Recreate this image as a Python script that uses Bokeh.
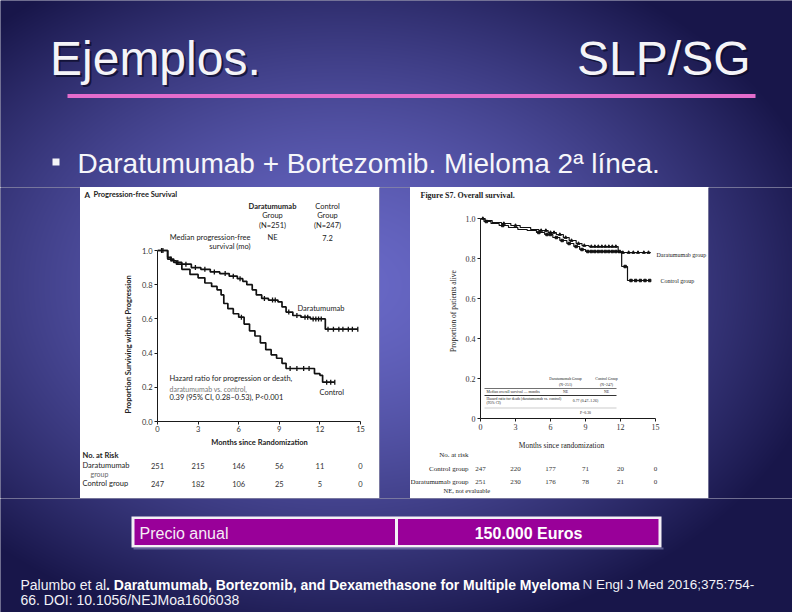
import numpy as np
from bokeh.plotting import figure
from bokeh.layouts import column, row
from bokeh.models import (Label, LabelSet, ColumnDataSource, FixedTicker,
                          NumeralTickFormatter, BoxAnnotation)
from bokeh.core.properties import value
from bokeh.embed import file_html
from bokeh.resources import INLINE

# ---------------- data ----------------
month_ticks = [0, 3, 6, 9, 12, 15]
prop_ticks = [0.0, 0.2, 0.4, 0.6, 0.8, 1.0]

# Progression-free survival (panel A)
pfs_dara_t = [0, 0.75, 1.2, 1.8, 2.5, 3.2, 3.9, 4.6, 5.3, 5.9, 6.3, 6.6, 7.0, 7.3, 7.7, 8.2, 8.9, 9.2, 9.5, 10.0, 10.6, 11.3, 12.4, 14.8]
pfs_dara_s = [1.0, 0.95, 0.93, 0.92, 0.90, 0.89, 0.875, 0.865, 0.85, 0.835, 0.82, 0.80, 0.77, 0.74, 0.72, 0.71, 0.70, 0.67, 0.64, 0.62, 0.61, 0.60, 0.54, 0.54]
pfs_ctrl_t = [0, 0.75, 1.0, 1.4, 1.8, 2.4, 3.0, 3.5, 4.0, 4.4, 4.7, 4.9, 5.2, 5.6, 6.0, 6.4, 6.8, 7.2, 7.6, 8.0, 8.4, 8.8, 9.2, 9.5, 11.6, 12.0, 12.2, 13.1]
pfs_ctrl_s = [1.0, 0.96, 0.94, 0.92, 0.89, 0.86, 0.84, 0.81, 0.79, 0.77, 0.74, 0.69, 0.66, 0.63, 0.61, 0.57, 0.53, 0.50, 0.46, 0.42, 0.39, 0.37, 0.34, 0.31, 0.28, 0.27, 0.23, 0.23]
pfs_dara_cens_t = [0.3, 1.0, 1.5, 2.1, 2.8, 3.5, 4.2, 5.0, 5.6, 6.1, 7.9, 8.5, 8.7, 9.7, 10.3, 10.9, 11.1, 11.5, 11.7, 11.9, 12.1, 12.6, 13.0, 13.4, 13.7, 14.1, 14.4, 14.8]
pfs_dara_cens_s = [1.0, 0.95, 0.93, 0.92, 0.90, 0.89, 0.875, 0.865, 0.85, 0.835, 0.72, 0.71, 0.71, 0.64, 0.62, 0.61, 0.61, 0.60, 0.60, 0.60, 0.60, 0.54, 0.54, 0.54, 0.54, 0.54, 0.54, 0.54]
pfs_ctrl_cens_t = [0.4, 6.2, 9.8, 10.3, 10.8, 11.2, 12.5, 12.8, 13.1]
pfs_ctrl_cens_s = [1.0, 0.61, 0.31, 0.31, 0.31, 0.31, 0.23, 0.23, 0.23]
pfs_risk_dara = [251, 215, 146, 56, 11, 0]
pfs_risk_ctrl = [247, 182, 106, 25, 5, 0]

# Overall survival (Figure S7)
os_dara_t = [0, 0.4, 1.0, 1.8, 2.6, 3.4, 4.3, 5.0, 5.8, 6.5, 7.1, 7.6, 8.2, 8.7, 9.3, 11.8, 14.6]
os_dara_s = [1.0, 0.99, 0.98, 0.975, 0.965, 0.955, 0.945, 0.94, 0.93, 0.92, 0.905, 0.89, 0.875, 0.865, 0.86, 0.83, 0.83]
os_ctrl_t = [0, 0.3, 0.9, 1.6, 2.4, 3.2, 4.0, 4.8, 5.5, 6.2, 6.8, 7.4, 8.0, 8.5, 9.0, 12.1, 12.6, 14.5]
os_ctrl_s = [1.0, 0.985, 0.975, 0.965, 0.955, 0.945, 0.94, 0.93, 0.92, 0.905, 0.89, 0.875, 0.86, 0.845, 0.835, 0.76, 0.69, 0.69]
os_dara_cens_t = [0.2, 2.0, 3.0, 5.2, 5.6, 6.0, 6.3, 6.8, 7.3, 7.8, 8.4, 8.9, 9.5, 9.8, 10.1, 10.4, 10.7, 11.0, 11.3, 11.6, 12.2, 12.7, 13.1, 13.5, 14.0, 14.4]
os_dara_cens_s = [1.0, 0.975, 0.965, 0.94, 0.94, 0.93, 0.93, 0.92, 0.905, 0.89, 0.875, 0.865, 0.86, 0.86, 0.86, 0.86, 0.86, 0.86, 0.86, 0.86, 0.83, 0.83, 0.83, 0.83, 0.83, 0.83]
os_ctrl_cens_t = [0.5, 1.9, 5.0, 5.7, 6.0, 6.5, 7.0, 7.6, 8.2, 8.7, 9.2, 9.5, 9.8, 10.1, 10.4, 10.7, 11.0, 11.3, 11.6, 11.9, 12.4, 12.9, 13.3, 13.7, 14.1, 14.5]
os_ctrl_cens_s = [0.985, 0.965, 0.93, 0.92, 0.92, 0.905, 0.89, 0.875, 0.86, 0.845, 0.835, 0.835, 0.835, 0.835, 0.835, 0.835, 0.835, 0.835, 0.835, 0.835, 0.76, 0.69, 0.69, 0.69, 0.69, 0.69]
os_risk_ctrl = [247, 220, 177, 71, 20, 0]
os_risk_dara = [251, 230, 176, 78, 21, 0]

SANS = "Liberation Sans"
SERIF = "Liberation Serif"
NEJM = "Lato"


# ---------------- helpers ----------------
def grad(x0, y0, w, h):
    xs = np.arange(x0, x0 + w) + 0.5
    ys = np.arange(y0 + h, y0, -1) - 0.5
    X, Y = np.meshgrid(xs, ys)
    r = np.sqrt(((X - 340) / 500.0) ** 2 + ((Y - 285) / 360.0) ** 2)
    t = np.clip(r, 0, 1) ** 1.5
    inner = np.array([104, 104, 198.0])
    outer = np.array([24, 22, 74.0])
    rgb = inner + (outer - inner) * t[..., None]
    img = np.zeros((h, w, 4), dtype=np.uint8)
    img[..., :3] = np.round(rgb).astype(np.uint8)
    img[..., 3] = 255
    return img.view(np.uint32).reshape((h, w))


def blank(w, h, xr, yr, fill="white"):
    return figure(width=w, height=h, x_range=xr, y_range=yr,
                  x_axis_type=None, y_axis_type=None, toolbar_location=None,
                  output_backend="svg", min_border=0, outline_line_color=None,
                  background_fill_color=fill, border_fill_color=fill, frame_align=False)


def canvas(x0, y0, w, h):
    p = blank(w, h, (x0, x0 + w), (-(y0 + h), -y0), fill="#1a1850")
    p.image_rgba(image=[grad(x0, y0, w, h)], x=x0, y=-(y0 + h), dw=w, dh=h)
    return p


def add_text(p, x, y, text, size, color="#222222", style="normal", align="left",
             font=SANS, alpha=1.0):
    p.add_layout(Label(x=x, y=y, text=text, text_font_size=f"{size}px", text_color=color,
                       text_font_style=style, text_align=align, text_baseline="middle",
                       text_font=font, text_alpha=alpha))


def style_axes(p, font, tick_size, label_size):
    for ax in list(p.xaxis) + list(p.yaxis):
        ax.major_tick_in = 0
        ax.major_tick_out = 3
        ax.minor_tick_line_color = None
        ax.axis_line_color = "#1a1a1a"
        ax.major_tick_line_color = "#1a1a1a"
        ax.major_label_text_font = font
        ax.major_label_text_font_size = f"{tick_size}px"
        ax.major_label_text_color = "#333333"
        ax.major_label_standoff = 2
        ax.axis_label_text_font = font
        ax.axis_label_text_font_size = f"{label_size}px"
        ax.axis_label_text_font_style = "normal"
        ax.axis_label_text_color = "#222222"
    p.grid.visible = False


# ---------------- top of slide ----------------
top = canvas(0, 0, 792, 187)
for dx, col, al in ((2, "#0c0c2a", 0.75), (0, "#f4f4f8", 1.0)):
    add_text(top, 49.5 + dx, -(57.5 + dx), "Ejemplos.", 48, color=col, alpha=al)
    add_text(top, 750 + dx, -(57.5 + dx), "SLP/SG", 48, color=col, alpha=al, align="right")
top.add_layout(BoxAnnotation(left=67, right=755, bottom=-97.5, top=-93.5,
                             fill_color="#e46ccc", fill_alpha=1, line_color=None))
top.add_layout(BoxAnnotation(left=52, right=59, bottom=-165, top=-158,
                             fill_color="#f4f4f8", fill_alpha=1, line_color=None))
add_text(top, 77, -163, "Daratumumab + Bortezomib. Mieloma 2ª línea.", 28, color="#f6f6fa")

# ---------------- PFS panel ----------------
PFS_X0, PFS_PXM = 157.0, (360 - 157) / 15.0
PFS_Y0, PFS_PXU = 421.0, 171.0


def pd(sx, sy):
    return (sx - PFS_X0) / PFS_PXM, (PFS_Y0 - sy) / PFS_PXU


pfs_strip = blank(299, 14, (80, 379), (-201, -187))
add_text(pfs_strip, 84, -194, "A", 8, style="bold", font=NEJM)
add_text(pfs_strip, 93, -194, "Progression-free Survival", 7.5, style="bold", font=NEJM)

pfs = figure(width=299, height=235, x_range=(0, 15), y_range=(0, (421 - 201) / PFS_PXU),
             toolbar_location=None, output_backend="svg", frame_align=False,
             min_border_left=77, min_border_right=19, min_border_top=0, min_border_bottom=15,
             background_fill_color="white", border_fill_color="white", outline_line_color=None)
style_axes(pfs, NEJM, 7.5, 7.5)
pfs.xaxis.ticker = FixedTicker(ticks=month_ticks)
pfs.yaxis.ticker = FixedTicker(ticks=prop_ticks)
pfs.yaxis.bounds = (0, 1)
pfs.xaxis.major_label_standoff = 1
pfs.yaxis.formatter = NumeralTickFormatter(format="0.0")
# trailing no-break spaces keep the title centred on the 0-1 part of the axis
pfs.yaxis.axis_label = "Proportion Surviving without Progression" + "\u00a0" * 36
pfs.yaxis.axis_label_standoff = 6
pfs.yaxis.axis_label_text_font_style = "bold"

pfs.step(pfs_ctrl_t, pfs_ctrl_s, mode="after", line_color="#111111", line_width=1.7)
pfs.step(pfs_dara_t, pfs_dara_s, mode="after", line_color="#111111", line_width=1.7)
pfs.scatter(pfs_dara_cens_t, pfs_dara_cens_s, marker="dash", angle=np.pi / 2, size=5,
            line_color="#111111", line_width=1.3)
pfs.scatter(pfs_ctrl_cens_t, pfs_ctrl_cens_s, marker="dash", angle=np.pi / 2, size=5,
            line_color="#111111", line_width=1.3)


def pfs_text(sx, sy, text, size=7.5, style="normal", align="left", color="#222222"):
    x, y = pd(sx, sy)
    add_text(pfs, x, y, text, size, color=color, style=style, align=align, font=NEJM)


pfs_text(272, 206, "Daratumumab", 7.5, "bold", "center")
pfs_text(272, 215, "Group", 7.5, "normal", "center")
pfs_text(272, 225, "(N=251)", 7.5, "normal", "center")
pfs_text(327, 206, "Control", 7.5, "normal", "center")
pfs_text(327, 215, "Group", 7.5, "normal", "center")
pfs_text(327, 225, "(N=247)", 7.5, "normal", "center")
pfs_text(250, 237, "Median progression-free", 7.5, "normal", "right")
pfs_text(250, 246, "survival (mo)", 7.5, "normal", "right")
pfs_text(272, 237, "NE", 7.5, "normal", "center")
pfs_text(327, 237, "7.2", 7.5, "normal", "center")
pfs_text(297, 308, "Daratumumab", 7.5)
pfs_text(319, 392, "Control", 7.5)
pfs_text(169, 378, "Hazard ratio for progression or death,", 7.5)
pfs_text(169, 388, "daratumumab vs. control,", 7, color="#777777")
pfs_text(169, 397, "0.39 (95% CI, 0.28\u20130.53), P<0.001", 7.5)

pfs_risk = blank(299, 62, ((80 - PFS_X0) / PFS_PXM, (379 - PFS_X0) / PFS_PXM), (-498, -436))


def pm(sx):
    return (sx - PFS_X0) / PFS_PXM


add_text(pfs_risk, pm(259), -442, "Months since Randomization", 7.5, style="bold",
         align="center", font=NEJM)
add_text(pfs_risk, pm(82), -455, "No. at Risk", 7.5, style="bold", font=NEJM)
add_text(pfs_risk, pm(82), -465, "Daratumumab", 7.5, font=NEJM)
add_text(pfs_risk, pm(90), -473, "group", 7, color="#666666", font=NEJM)
add_text(pfs_risk, pm(82), -483, "Control group", 7.5, font=NEJM)
for risk, sy in ((pfs_risk_dara, 465), (pfs_risk_ctrl, 483)):
    src = ColumnDataSource(dict(m=month_ticks, n=[str(v) for v in risk], y=[-sy] * len(risk)))
    pfs_risk.add_layout(LabelSet(x="m", y="y", text="n", source=src, text_font=value(NEJM),
                                 text_font_size="7.5px", text_align="center",
                                 text_baseline="middle", text_color="#333333"))

# ---------------- OS panel ----------------
OS_X0, OS_PXM = 480.0, 175 / 15.0
OS_Y0, OS_PXU = 418.0, 200.0


def od(sx, sy):
    return (sx - OS_X0) / OS_PXM, (OS_Y0 - sy) / OS_PXU


def om(sx):
    return (sx - OS_X0) / OS_PXM


os_strip = blank(298, 16, (410, 708), (-203, -187))
add_text(os_strip, 420, -195, "Figure S7.  Overall survival.", 8, style="bold", font=SERIF)

osf = figure(width=298, height=231, x_range=(0, om(708)), y_range=(0, (418 - 203) / OS_PXU),
             toolbar_location=None, output_backend="svg", frame_align=False,
             min_border_left=70, min_border_right=0, min_border_top=0, min_border_bottom=16,
             background_fill_color="white", border_fill_color="white", outline_line_color=None)
style_axes(osf, SERIF, 8, 7.5)
osf.xaxis.ticker = FixedTicker(ticks=month_ticks)
osf.xaxis.bounds = (0, 15)
osf.yaxis.ticker = FixedTicker(ticks=prop_ticks)
osf.yaxis.bounds = (0, 1)
osf.yaxis.formatter = NumeralTickFormatter(format="0.0")
osf.yaxis.major_label_overrides = {0: "0"}
osf.yaxis.axis_label = "Proportion of patients alive"
osf.yaxis.axis_label_standoff = 5

osf.step(os_ctrl_t, os_ctrl_s, mode="after", line_color="#111111", line_width=1.2)
osf.step(os_dara_t, os_dara_s, mode="after", line_color="#111111", line_width=1.2)
osf.scatter(os_dara_cens_t, os_dara_cens_s, marker="triangle", size=3,
            fill_color="#111111", line_color="#111111")
osf.scatter(os_ctrl_cens_t, os_ctrl_cens_s, marker="square", size=2.5,
            fill_color="#111111", line_color="#111111")


def os_text(sx, sy, text, size=7, style="normal", align="left", color="#222222"):
    x, y = od(sx, sy)
    add_text(osf, x, y, text, size, color=color, style=style, align=align, font=SERIF)


os_text(656, 254, "Daratumumab group", 6)
os_text(660, 280, "Control group", 6)

# small inset table of the OS figure
os_text(565, 378, "Daratumumab Group", 3.8, align="center")
os_text(565, 384, "(N=251)", 3.8, align="center")
os_text(606, 378, "Control Group", 3.8, align="center")
os_text(606, 384, "(N=247)", 3.8, align="center")
os_text(486, 391.5, "Median overall survival \u2014 months", 3.8)
os_text(565, 391.5, "NE", 3.8, align="center")
os_text(606, 391.5, "NE", 3.8, align="center")
os_text(486, 398.5, "Hazard ratio for death (daratumumab vs. control)", 3.8)
os_text(486, 402.5, "(95% CI)", 3.8)
os_text(585, 400, "0.77 (0.47\u20131.26)", 3.8, align="center")
os_text(585, 412, "P=0.30", 3.8, align="center")
for sy, lw, lc in ((388, 0.7, "#333333"), (395, 1.0, "#333333"), (407.5, 0.6, "#aaaaaa")):
    yy = od(0, sy)[1]
    osf.segment(x0=[om(484)], y0=[yy], x1=[om(616)], y1=[yy], line_width=lw, line_color=lc)

os_risk = blank(298, 64, (om(410), om(708)), (-498, -434))
add_text(os_risk, om(561), -445, "Months since randomization", 7.5, align="center", font=SERIF)
add_text(os_risk, om(468), -454, "No. at risk", 7, align="right", font=SERIF)
add_text(os_risk, om(468), -468, "Control group", 7, align="right", font=SERIF)
add_text(os_risk, om(468), -481, "Daratumumab group", 7, align="right", font=SERIF)
add_text(os_risk, om(443), -490, "NE, not evaluable", 6.5, font=SERIF)
for risk, sy in ((os_risk_ctrl, 468), (os_risk_dara, 481)):
    src = ColumnDataSource(dict(m=month_ticks, n=[str(v) for v in risk], y=[-sy] * len(risk)))
    os_risk.add_layout(LabelSet(x="m", y="y", text="n", source=src, text_font=value(SERIF),
                                text_font_size="7px", text_align="center",
                                text_baseline="middle", text_color="#333333"))

# ---------------- spacers ----------------
sp_l = canvas(0, 187, 80, 311)
sp_m = canvas(379, 187, 31, 311)
sp_r = canvas(708, 187, 84, 311)

# ---------------- bottom of slide ----------------
bot = canvas(0, 498, 792, 114)
bot.add_layout(BoxAnnotation(left=131, right=661, bottom=-547, top=-516,
                             fill_color="#f4f0f6", fill_alpha=1, line_color=None))
bot.add_layout(BoxAnnotation(left=134, right=394.5, bottom=-544.5, top=-518.5,
                             fill_color="#990099", fill_alpha=1, line_color=None))
bot.add_layout(BoxAnnotation(left=397.5, right=658, bottom=-544.5, top=-518.5,
                             fill_color="#990099", fill_alpha=1, line_color=None))
bot.add_layout(BoxAnnotation(left=133, right=663, bottom=-549, top=-547,
                             fill_color="#8888bb", fill_alpha=0.6, line_color=None))
add_text(bot, 139, -532.5, "Precio anual", 16, color="#f6ecf6")
add_text(bot, 528, -532.5, "150.000 Euros", 16, color="#ffffff", style="bold", align="center")
add_text(bot, 20, -584, "Palumbo et al", 14, color="#f2f2f8")
add_text(bot, 105.5, -584, ". Daratumumab, Bortezomib, and Dexamethasone for Multiple Myeloma", 14,
         color="#ffffff", style="bold")
add_text(bot, 582, -584, "N Engl J Med 2016;375:754-", 13.5, color="#f2f2f8")
add_text(bot, 20, -599.5, "66. DOI: 10.1056/NEJMoa1606038", 14, color="#f2f2f8")

pfs_col = column(pfs_strip, pfs, pfs_risk)
os_col = column(os_strip, osf, os_risk)
layout = column(top, row(sp_l, pfs_col, sp_m, os_col, sp_r), bot)
open("out.html", "w").write(file_html(layout, INLINE))
